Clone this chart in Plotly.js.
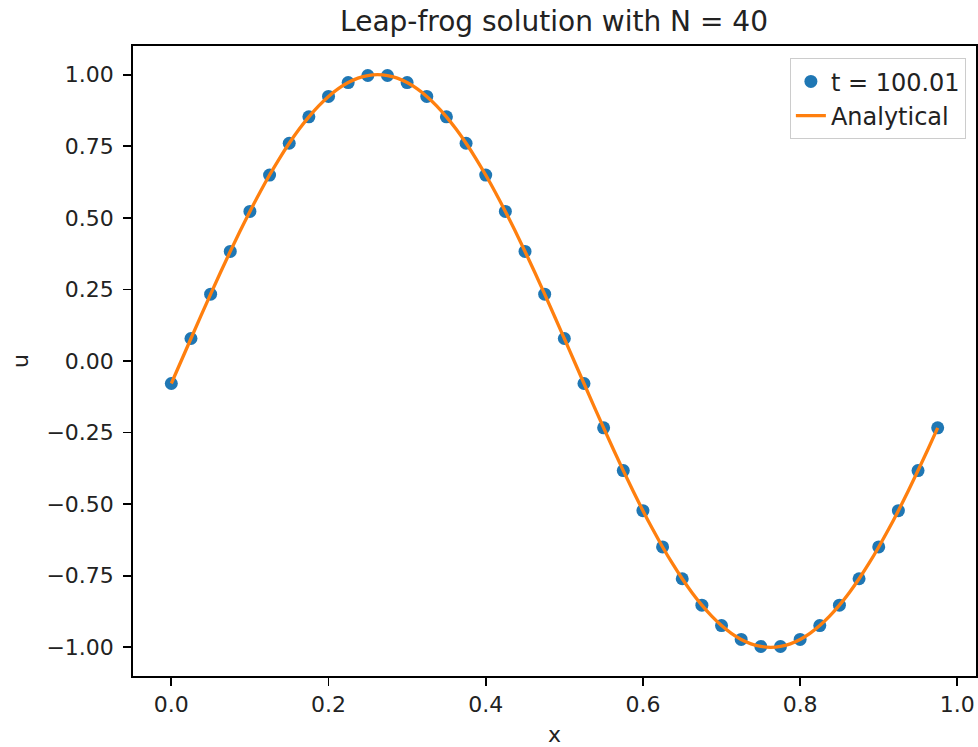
<!DOCTYPE html>
<html>
<head>
<meta charset="utf-8">
<script src="https://cdn.plot.ly/plotly-3.0.1.min.js"></script>
<style>html,body{margin:0;padding:0;background:#fff;}#chart{width:978px;height:747px;}</style>
</head>
<body>
<div id="chart"></div>
<script>
// Numerical (leap-frog) solution, N = 40 grid points
const xNum = [0.000,0.025,0.050,0.075,0.100,0.125,0.150,0.175,0.200,0.225,
              0.250,0.275,0.300,0.325,0.350,0.375,0.400,0.425,0.450,0.475,
              0.500,0.525,0.550,0.575,0.600,0.625,0.650,0.675,0.700,0.725,
              0.750,0.775,0.800,0.825,0.850,0.875,0.900,0.925,0.950,0.975];
const uNum = [-0.0785,0.0785,0.2334,0.3827,0.5225,0.6494,0.7604,0.8526,0.9239,0.9724,
              0.9969,0.9969,0.9724,0.9239,0.8526,0.7604,0.6494,0.5225,0.3827,0.2334,
              0.0785,-0.0785,-0.2334,-0.3827,-0.5225,-0.6494,-0.7604,-0.8526,-0.9239,-0.9724,
              -0.9969,-0.9969,-0.9724,-0.9239,-0.8526,-0.7604,-0.6494,-0.5225,-0.3827,-0.2334];

// Analytical solution read on a finer grid (step 0.0125)
const xAna = [0.0000,0.0125,0.0250,0.0375,0.0500,0.0625,0.0750,0.0875,0.1000,0.1125,
              0.1250,0.1375,0.1500,0.1625,0.1750,0.1875,0.2000,0.2125,0.2250,0.2375,
              0.2500,0.2625,0.2750,0.2875,0.3000,0.3125,0.3250,0.3375,0.3500,0.3625,
              0.3750,0.3875,0.4000,0.4125,0.4250,0.4375,0.4500,0.4625,0.4750,0.4875,
              0.5000,0.5125,0.5250,0.5375,0.5500,0.5625,0.5750,0.5875,0.6000,0.6125,
              0.6250,0.6375,0.6500,0.6625,0.6750,0.6875,0.7000,0.7125,0.7250,0.7375,
              0.7500,0.7625,0.7750,0.7875,0.8000,0.8125,0.8250,0.8375,0.8500,0.8625,
              0.8750,0.8875,0.9000,0.9125,0.9250,0.9375,0.9500,0.9625,0.9750];
const uAna = [-0.0785,0.0000,0.0785,0.1564,0.2334,0.3090,0.3827,0.4540,0.5225,0.5878,
              0.6494,0.7071,0.7604,0.8090,0.8526,0.8910,0.9239,0.9511,0.9724,0.9877,
              0.9969,1.0000,0.9969,0.9877,0.9724,0.9511,0.9239,0.8910,0.8526,0.8090,
              0.7604,0.7071,0.6494,0.5878,0.5225,0.4540,0.3827,0.3090,0.2334,0.1564,
              0.0785,0.0000,-0.0785,-0.1564,-0.2334,-0.3090,-0.3827,-0.4540,-0.5225,-0.5878,
              -0.6494,-0.7071,-0.7604,-0.8090,-0.8526,-0.8910,-0.9239,-0.9511,-0.9724,-0.9877,
              -0.9969,-1.0000,-0.9969,-0.9877,-0.9724,-0.9511,-0.9239,-0.8910,-0.8526,-0.8090,
              -0.7604,-0.7071,-0.6494,-0.5878,-0.5225,-0.4540,-0.3827,-0.3090,-0.2334];

const xTicks = [0.0,0.2,0.4,0.6,0.8,1.0];
const yTicks = [-1.00,-0.75,-0.50,-0.25,0.00,0.25,0.50,0.75,1.00];

const titleText = 'Leap-frog solution with N = 40';
const numName = 't = 100.01';
const anaName = 'Analytical';

const FONT = 'DejaVu Sans, sans-serif';

const traces = [
  {x: xNum, y: uNum, type: 'scatter', mode: 'markers', name: numName,
   marker: {color: '#1f77b4', size: 13, line: {width: 0}}},
  {x: xAna, y: uAna, type: 'scatter', mode: 'lines', name: anaName,
   line: {color: '#ff7f0e', width: 3.3, shape: 'spline'}}
];

const axisCommon = {
  showgrid: false, zeroline: false, showline: true, mirror: true,
  linecolor: '#000', linewidth: 1.8, ticks: 'outside', ticklen: 8,
  tickwidth: 1.8, tickcolor: '#000', tickfont: {family: FONT, size: 22, color: '#222'}
};

const layout = {
  width: 978, height: 747,
  paper_bgcolor: '#fff', plot_bgcolor: '#fff',
  margin: {l: 133, r: 2, t: 46, b: 71},
  font: {family: FONT, color: '#222'},
  title: {text: titleText, font: {family: FONT, size: 28, color: '#222'},
          x: 0.5665, xanchor: 'center', y: 1 - 21/747, yanchor: 'middle', yref: 'container'},
  xaxis: Object.assign({}, axisCommon, {
    range: [-0.04875, 1.02375], tickvals: xTicks, ticktext: xTicks.map(v => v.toFixed(1)),
    title: {text: 'x', font: {family: FONT, size: 22, color: '#222'}, standoff: 10}
  }),
  yaxis: Object.assign({}, axisCommon, {
    range: [-1.1, 1.1], tickvals: yTicks, ticktext: yTicks.map(v => (v < 0 ? '\u2212' + Math.abs(v).toFixed(2) : v.toFixed(2))),
    ticklabelstandoff: 5,
    title: {text: 'u', font: {family: FONT, size: 22, color: '#222'}, standoff: 12}
  }),
  legend: {
    x: 0.988, xanchor: 'right', y: 0.9805, yanchor: 'top',
    bgcolor: 'rgba(255,255,255,0.8)', bordercolor: '#cccccc', borderwidth: 1,
    font: {family: FONT, size: 24, color: '#222'}
  },
  showlegend: true
};

Plotly.newPlot('chart', traces, layout, {displayModeBar: false, staticPlot: true});
</script>
</body>
</html>
